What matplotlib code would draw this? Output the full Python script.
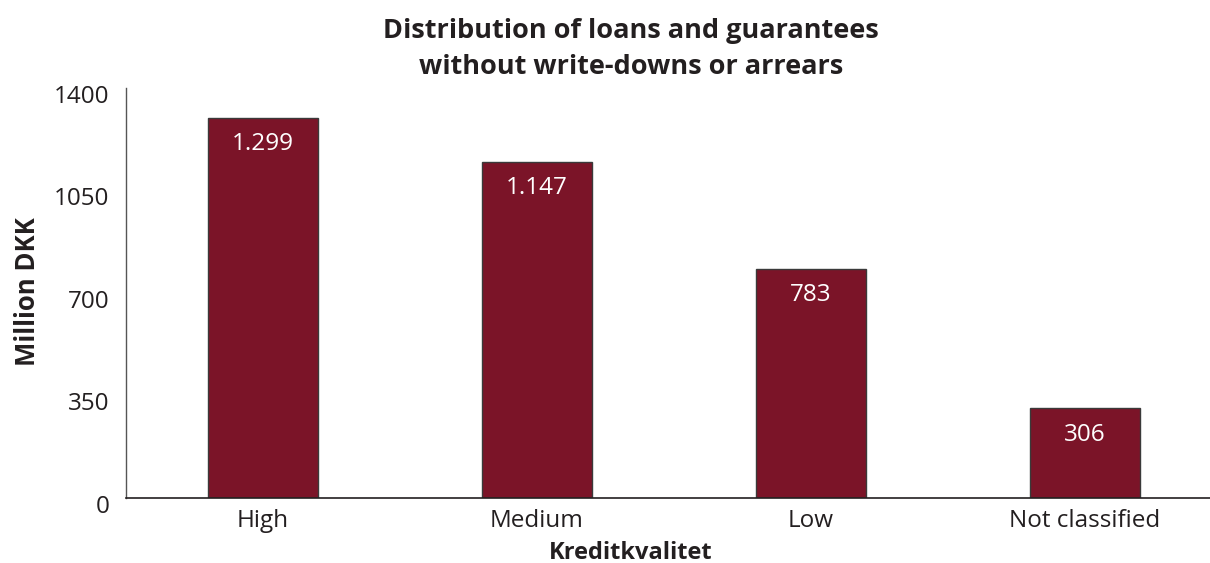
import matplotlib.pyplot as plt
from matplotlib.transforms import ScaledTranslation

categories = ['High', 'Medium', 'Low', 'Not classified']
values = [1299, 1147, 783, 306]
value_labels = ['1.299', '1.147', '783', '306']
yticks = [0, 350, 700, 1050, 1400]

bar_color = '#7b1428'
text_color = '#231f20'

plt.rcParams['font.family'] = ['Open Sans', 'DejaVu Sans']

fig = plt.figure(figsize=(12.10, 5.63), dpi=100)
ax = fig.add_axes([126 / 1210, 65 / 563, 1084 / 1210, 410 / 563])

x = range(len(categories))
ax.bar(x, values, width=0.4, color=bar_color, edgecolor='#3a3a3a', linewidth=1.0)

for xi, v, lab in zip(x, values, value_labels):
    ax.annotate(lab, (xi, v), xytext=(0, -19), textcoords='offset points',
                ha='center', va='center', color='white', fontsize=17.5)

ax.set_xlim(-0.5, -0.5 + 1084 / 274)
ax.set_ylim(0, 1400)
ax.set_yticks(yticks)
ax.set_yticklabels([str(t) for t in yticks], fontsize=17.5, color=text_color)
ax.set_xticks(list(x))
ax.set_xticklabels(categories, fontsize=17.5, color=text_color)
ax.tick_params(axis='both', length=0)
ax.tick_params(axis='y', pad=12)
ax.tick_params(axis='x', pad=8)

# tick labels sit slightly below their values in the reference
shift = ScaledTranslation(0, -4 / 72, fig.dpi_scale_trans)
for lbl in ax.get_yticklabels():
    lbl.set_transform(lbl.get_transform() + shift)

for side in ['top', 'right']:
    ax.spines[side].set_visible(False)
ax.spines['left'].set_color('#555555')
ax.spines['left'].set_linewidth(1.0)
ax.spines['bottom'].set_color(text_color)
ax.spines['bottom'].set_linewidth(1.2)

fig.text(28 / 1210, 1 - 292 / 563, 'Million DKK', rotation=90, ha='center', va='center',
         fontsize=18.5, fontweight='bold', color=text_color)
fig.text(631 / 1210, 1 - 553 / 563, 'Kreditkvalitet', ha='center', va='center',
         fontsize=17, fontweight='bold', color=text_color)
fig.text(631 / 1210, 1 - 49 / 563, 'Distribution of loans and guarantees\nwithout write-downs or arrears',
         ha='center', va='center', fontsize=19.5, fontweight='bold', color=text_color,
         linespacing=1.5)

fig.savefig('out.png', dpi=100)
